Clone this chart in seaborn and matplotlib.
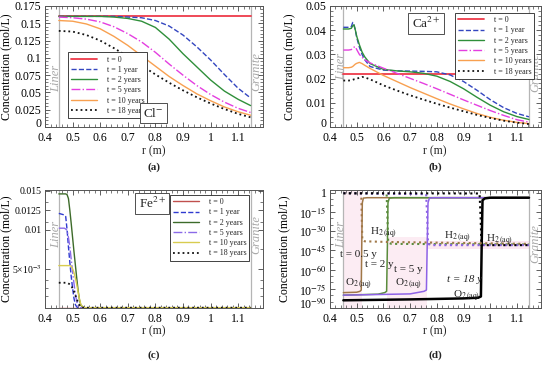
import numpy as np
import pandas as pd
import matplotlib
matplotlib.use('Agg')
import matplotlib.pyplot as plt
import matplotlib.transforms as mtrans
import seaborn as sns
from matplotlib.ticker import FixedLocator, FuncFormatter, MultipleLocator

sns.set_theme(style='ticks')
plt.rcParams['font.family'] = ['Liberation Serif', 'DejaVu Serif']
plt.rcParams['mathtext.fontset'] = 'stix'

# ---------------- data ----------------
liner_r = 0.45
granite_r = 1.145
time_labels = ['t = 0', 't = 1 year', 't = 2 years', 't = 5 years', 't = 10 years', 't = 18 years']

# (a) Cl-
r_a = [0.45, 0.5, 0.55, 0.6, 0.65, 0.7, 0.75, 0.8, 0.85, 0.9, 0.95, 1.0, 1.05, 1.1, 1.145]
cl_t0 = [0.16] * 15
cl_t1 = [0.16, 0.16, 0.16, 0.16, 0.16, 0.159, 0.158, 0.154, 0.146, 0.133, 0.116, 0.097, 0.076, 0.056, 0.042]
cl_t2 = [0.16, 0.16, 0.16, 0.16, 0.159, 0.157, 0.153, 0.144, 0.127, 0.106, 0.087, 0.068, 0.052, 0.040, 0.031]
cl_t5 = [0.159, 0.158, 0.156, 0.152, 0.145, 0.135, 0.123, 0.108, 0.091, 0.075, 0.060, 0.047, 0.036, 0.027, 0.021]
cl_t10 = [0.154, 0.153, 0.149, 0.142, 0.131, 0.118, 0.103, 0.088, 0.073, 0.060, 0.048, 0.038, 0.029, 0.022, 0.017]
cl_t18 = [0.139, 0.138, 0.133, 0.125, 0.114, 0.102, 0.089, 0.076, 0.064, 0.053, 0.043, 0.034, 0.026, 0.019, 0.014]

# (b) Ca2+
r_b = [0.45, 0.47, 0.48, 0.485, 0.49, 0.495, 0.5, 0.51, 0.52, 0.53, 0.55, 0.6, 0.65, 0.7,
       0.75, 0.8, 0.85, 0.9, 0.95, 1.0, 1.05, 1.1, 1.145]
ca_t0 = [0.022] * 23
ca_t1 = [0.0412, 0.0412, 0.0415, 0.0432, 0.042, 0.040, 0.037, 0.033, 0.030, 0.0278, 0.025, 0.0235,
         0.0232, 0.0231, 0.0230, 0.0228, 0.0215, 0.0188, 0.0152, 0.0113, 0.0080, 0.0056, 0.0042]
ca_t2 = [0.0405, 0.0405, 0.0408, 0.0418, 0.0422, 0.040, 0.0375, 0.034, 0.031, 0.029, 0.0262, 0.0238,
         0.0232, 0.0228, 0.0222, 0.0210, 0.0188, 0.0158, 0.0123, 0.0090, 0.0063, 0.0043, 0.0031]
ca_t5 = [0.0318, 0.0318, 0.032, 0.0325, 0.033, 0.0332, 0.032, 0.030, 0.0288, 0.0278, 0.0265, 0.0243,
         0.0222, 0.0201, 0.0180, 0.0158, 0.0135, 0.0112, 0.0090, 0.0068, 0.0048, 0.0030, 0.0020]
ca_t10 = [0.0245, 0.0245, 0.0247, 0.025, 0.0255, 0.026, 0.0263, 0.0267, 0.0262, 0.0255, 0.0242, 0.0213,
          0.0188, 0.0163, 0.0140, 0.0117, 0.0095, 0.0075, 0.0056, 0.0040, 0.0028, 0.0019, 0.0014]
ca_t18 = [0.0192, 0.0192, 0.0193, 0.0195, 0.0197, 0.0198, 0.0200, 0.0203, 0.0207, 0.0205, 0.0197, 0.0172,
          0.0151, 0.0131, 0.0113, 0.0096, 0.0080, 0.0065, 0.0050, 0.0037, 0.0026, 0.0018, 0.0012]

# (c) Fe2+
r_c = [0.45, 0.47, 0.475, 0.48, 0.485, 0.49, 0.495, 0.5, 0.505, 0.51, 0.515, 0.52, 0.525, 0.53, 0.54, 0.6, 1.145]
fe_t0 = [0.0] * 17
fe_t1 = [0.0121, 0.0119, 0.0117, 0.0100, 0.0078, 0.0058, 0.0040, 0.0025, 0.0012, 0.0004, 0.0001, 0, 0, 0, 0, 0, 0]
fe_t2 = [0.0146, 0.0146, 0.0146, 0.0145, 0.0140, 0.0125, 0.0108, 0.0090, 0.0072, 0.0055, 0.0038, 0.0022, 0.0010, 0.0003, 0, 0, 0]
fe_t5 = [0.0102, 0.0102, 0.0101, 0.0099, 0.0090, 0.0078, 0.0062, 0.0046, 0.0031, 0.0018, 0.0008, 0.0002, 0, 0, 0, 0, 0]
fe_t10 = [0.0054, 0.0054, 0.0054, 0.0054, 0.0054, 0.0054, 0.0053, 0.0050, 0.0045, 0.0038, 0.0030, 0.0020, 0.0011, 0.0004, 0, 0, 0]
fe_t18 = [0.0032, 0.0032, 0.0032, 0.0032, 0.0031, 0.0030, 0.0028, 0.0025, 0.0021, 0.0016, 0.0011, 0.0007, 0.0003, 0.0001, 0, 0, 0]
fe_tick_values = [0.005, 0.01, 0.0125, 0.015]
fe_tick_labels = ['5×10$^{-3}$', '0.01', '0.0125', '0.015']

# (d) O2(aq) and H2(aq), log scale
fronts = [0.519, 0.615, 0.764, 0.968]
r_o2_05 = [0.45, 0.50, 0.512, 0.517, 0.519, 0.521, 0.525, 0.54, 1.145]
o2_05 = [1e-78, 2e-78, 1e-77, 1e-76, 1e-40, 1e-8, 5e-5, 1e-4, 1e-4]
r_o2_2 = [0.45, 0.58, 0.605, 0.612, 0.615, 0.617, 0.622, 0.64, 1.145]
o2_2 = [1e-80, 6e-80, 1e-78, 1e-77, 1e-40, 1e-8, 5e-5, 1e-4, 1e-4]
r_o2_5 = [0.45, 0.70, 0.752, 0.761, 0.764, 0.767, 0.772, 0.79, 1.145]
o2_5 = [1e-80, 1e-79, 1e-77, 1e-76, 1e-40, 1e-8, 5e-5, 1e-4, 1e-4]
r_o2_18 = [0.45, 0.70, 0.90, 0.955, 0.965, 0.968, 0.971, 0.98, 1.0, 1.145]
o2_18 = [1e-84, 5e-84, 3e-83, 1e-82, 1e-81, 1e-40, 1e-6, 3e-5, 1e-4, 1e-4]
r_h2_05 = [0.45, 0.517, 0.519, 0.521, 0.53, 0.615, 1.145]
h2_05 = [0.3, 0.2, 1e-20, 1e-37, 1e-38, 3e-39, 1e-40]
r_h2_2 = [0.45, 0.612, 0.615, 0.618, 0.63, 1.145]
h2_2 = [0.3, 0.15, 1e-20, 1e-39, 1e-40, 3e-41]
r_h2_5 = [0.45, 0.76, 0.764, 0.767, 0.78, 1.145]
h2_5 = [0.3, 0.05, 1e-20, 1e-40, 1e-41, 1e-41]
r_h2_18 = [0.45, 0.96, 0.964, 0.967, 0.98, 1.145]
h2_18 = [0.3, 0.2, 1e-20, 1e-41, 1e-41, 1e-41]

# ---------------- styles ----------------
styles_ab = [('#ee3a4a', '-', 1.3), ('#3346c0', '--', 1.0), ('#2f8f3a', '-', 1.0),
             ('#e43ee0', '-.', 1.0), ('#f8a050', '-', 1.0), ('#111111', ':', 1.3)]
styles_c = [('#c0504d', '-', 1.0), ('#2f3ad0', '--', 1.0), ('#3d6b2a', '-', 1.0),
            ('#8a6ae8', '-.', 1.0), ('#d8cc50', '-', 1.0), ('#111111', ':', 1.3)]
col_d = ['#a07848', '#5a8c3c', '#8e62e6', '#000000']

fig = plt.figure(figsize=(5.5, 3.65), dpi=100)
W, H = 550.0, 365.0
ax_a = fig.add_axes([45 / W, 1 - 127 / H, 218 / W, 121 / H])
ax_b = fig.add_axes([330 / W, 1 - 127 / H, 211 / W, 121 / H])
ax_c = fig.add_axes([45 / W, 1 - 308 / H, 218 / W, 118 / H])
ax_d = fig.add_axes([330 / W, 1 - 308 / H, 211 / W, 118 / H])

fmt_g = FuncFormatter(lambda v, p: '%g' % round(v, 6))


def style_ax(ax):
    ax.set_facecolor('white')
    ax.tick_params(which='both', direction='in', top=True, right=True, labelsize=8.5,
                   color='#444444', labelcolor='black', pad=2.5)
    ax.tick_params(axis='x', which='both', pad=3.5)
    ax.tick_params(which='major', length=3.5, width=0.6)
    ax.tick_params(which='minor', length=2, width=0.5)
    for s in ax.spines.values():
        s.set_linewidth(0.7)
        s.set_color('#555555')
    ax.set_xlim(0.4, 1.19)
    ax.xaxis.set_major_locator(MultipleLocator(0.1))
    ax.xaxis.set_minor_locator(MultipleLocator(0.02))
    ax.xaxis.set_major_formatter(fmt_g)


def finish_labels(ax, ylab_x):
    ax.set_xlabel('')
    ax.set_ylabel('Concentration (mol/L)', fontsize=8.5, color='black')
    ax.yaxis.set_label_coords(ylab_x, 0.5)


def zone_lines(ax, ymid_liner, ymid_granite):
    ax.axvline(liner_r, color='#b5b5b5', lw=0.9, zorder=1)
    ax.axvline(granite_r, color='#b5b5b5', lw=0.9, zorder=1)
    ax.text(liner_r - 0.009, ymid_liner, 'Liner', rotation=90, ha='center', va='center',
            style='italic', color='#a8a8a8', fontsize=9, transform=ax.get_xaxis_transform())
    ax.text(granite_r + 0.022, ymid_granite, 'Granite', rotation=90, ha='center', va='center',
            style='italic', color='#a8a8a8', fontsize=9, transform=ax.get_xaxis_transform())


def draw_series(ax, r, series, styles):
    for vals, lab, (c, ls, lw) in zip(series, time_labels, styles):
        df = pd.DataFrame({'r': r, 'c': vals})
        sns.lineplot(data=df, x='r', y='c', ax=ax, color=c, linestyle=ls, lw=lw,
                     label=lab, estimator=None, sort=False, zorder=3)


def make_legend(ax, loc, anchor):
    leg = ax.legend(loc=loc, bbox_to_anchor=anchor, fontsize=5.8, frameon=True, fancybox=False,
                    handlelength=3.2, handletextpad=1.2, labelspacing=0.28, borderpad=0.4,
                    borderaxespad=0)
    leg.get_frame().set_edgecolor('#222222')
    leg.get_frame().set_linewidth(0.6)
    leg.get_frame().set_facecolor('white')
    leg.get_frame().set_alpha(1)


def species_box(ax, x, y, s):
    ax.text(x, y, s, transform=ax.transAxes, ha='center', va='center', fontsize=9.5,
            bbox=dict(boxstyle='square,pad=0.25', fc='white', ec='#333333', lw=0.6), zorder=6)


def nudge_lowest_ylabel(ax):
    fig.canvas.draw()
    lo = min(ax.get_ylim())
    ticks = [t for t in ax.yaxis.get_major_ticks() if t.get_loc() >= lo * (1 - 1e-9) - 1e-12]
    lowest = min(ticks, key=lambda t: t.get_loc())
    lab = lowest.label1
    lab.set_transform(lab.get_transform() + mtrans.ScaledTranslation(0, 3.5 / 72, fig.dpi_scale_trans))


# ---- (a) ----
ax = ax_a
style_ax(ax)
zone_lines(ax, 0.40, 0.455)
draw_series(ax, r_a, [cl_t0, cl_t1, cl_t2, cl_t5, cl_t10, cl_t18], styles_ab)
ax.set_ylim(0, 0.175)
ax.yaxis.set_major_locator(MultipleLocator(0.025))
ax.yaxis.set_minor_locator(MultipleLocator(0.005))
ax.yaxis.set_major_formatter(fmt_g)
ax.set_xlim(0.4, 1.19)
make_legend(ax, 'lower left', (0.105, 0.074))
species_box(ax, 0.497, 0.115, r'Cl$^{-}$')
finish_labels(ax, -0.148)

# ---- (b) ----
ax = ax_b
style_ax(ax)
zone_lines(ax, 0.50, 0.45)
draw_series(ax, r_b, [ca_t0, ca_t1, ca_t2, ca_t5, ca_t10, ca_t18], styles_ab)
ax.set_ylim(0, 0.05)
ax.yaxis.set_major_locator(MultipleLocator(0.01))
ax.yaxis.set_minor_locator(MultipleLocator(0.002))
ax.yaxis.set_major_formatter(fmt_g)
ax.set_xlim(0.4, 1.19)
make_legend(ax, 'upper left', (0.592, 0.942))
species_box(ax, 0.455, 0.855, r'Ca$^{2+}$')
finish_labels(ax, -0.165)

# ---- (c) ----
ax = ax_c
style_ax(ax)
zone_lines(ax, 0.62, 0.62)
draw_series(ax, r_c, [fe_t0, fe_t1, fe_t2, fe_t5, fe_t10, fe_t18], styles_c)
ax.set_ylim(-0.00004, 0.0151)
ax.yaxis.set_major_locator(FixedLocator(fe_tick_values))
ax.set_yticklabels(fe_tick_labels)
ax.tick_params(axis='y', labelsize=7)
ax.yaxis.set_minor_locator(FixedLocator([0.0015, 0.0025, 0.0035, 0.0075, 0.011, 0.0135]))
ax.set_xlim(0.4, 1.19)
make_legend(ax, 'upper left', (0.573, 0.958))
species_box(ax, 0.493, 0.885, r'Fe$^{2+}$')
finish_labels(ax, -0.152)

# ---- (d) ----
ax = ax_d
style_ax(ax)
ax.set_yscale('log')
ax.axvspan(liner_r, fronts[0], color='#fce8f1', alpha=0.8, lw=0, zorder=0)
ax.axvspan(fronts[1], fronts[2], ymin=0.0, ymax=0.6, color='#fce8f1', alpha=0.8, lw=0, zorder=0)
ax.fill_between([fronts[2], granite_r], [1e-44, 1e-44], [1e-38, 1e-38], color='#fce8f1', lw=0, zorder=0)
zone_lines(ax, 0.62, 0.55)
for r_, v_, c in zip([r_o2_05, r_o2_2, r_o2_5, r_o2_18], [o2_05, o2_2, o2_5, o2_18], col_d):
    sns.lineplot(x=r_, y=v_, ax=ax, color=c, lw=1.8 if c == '#000000' else 1.1,
                 estimator=None, sort=False, zorder=3)
for r_, v_, c in zip([r_h2_05, r_h2_2, r_h2_5, r_h2_18], [h2_05, h2_2, h2_5, h2_18], col_d):
    sns.lineplot(x=r_, y=v_, ax=ax, color=c, lw=1.5, linestyle=':',
                 estimator=None, sort=False, zorder=3)
ax.set_ylim(1e-90, 1e2)
ax.set_xlim(0.4, 1.19)
maj = [10.0 ** e for e in range(0, -91, -15)]
ax.yaxis.set_major_locator(FixedLocator(maj))
ax.yaxis.set_minor_locator(FixedLocator([10.0 ** e for e in range(0, -91, -5) if e % 15 != 0]))
ax.yaxis.set_major_formatter(FuncFormatter(
    lambda v, p: '1' if abs(np.log10(v)) < 0.5 else r'10$^{%d}$' % round(np.log10(v))))
ax.yaxis.set_minor_formatter(FuncFormatter(lambda v, p: ''))
finish_labels(ax, -0.19)
tk = dict(fontsize=8, color='#222222', zorder=5)
H2 = r'H$_{2\,\mathrm{(aq)}}$'
O2 = r'O$_{2\,\mathrm{(aq)}}$'
ax.text(0.600, 1e-32, H2, ha='center', va='center', **tk)
ax.text(0.876, 1e-35, H2, ha='center', va='center', **tk)
ax.text(1.036, 1e-37, H2, ha='center', va='center', **tk)
ax.text(0.505, 1e-48, 't = 0.5 y', ha='center', va='center', **tk)
ax.text(0.585, 1e-56, 't = 2 y', ha='center', va='center', **tk)
ax.text(0.695, 1e-60, 't = 5 y', ha='center', va='center', **tk)
ax.text(0.905, 1e-68, 't = 18 y', ha='center', va='center', style='italic', **tk)
ax.text(0.508, 1e-72, O2, ha='center', va='center', **tk)
ax.text(0.695, 1e-72, O2, ha='center', va='center', **tk)
ax.text(0.91, 1e-81, O2, ha='center', va='center', **tk)

for a_ in (ax_a, ax_b, ax_d):
    nudge_lowest_ylabel(a_)

# axis titles and panel labels
for cx, y1, y2, lab in [(154, 151, 167, '(a)'), (435, 151, 167, '(b)'),
                        (154, 331, 355, '(c)'), (435, 331, 355, '(d)')]:
    fig.text(cx / W, 1 - y1 / H, 'r (m)', ha='center', va='center', fontsize=8.5)
    fig.text(cx / W, 1 - y2 / H, lab, ha='center', va='center', fontsize=8, fontweight='bold')

fig.savefig('out.png', dpi=100, facecolor='white')
